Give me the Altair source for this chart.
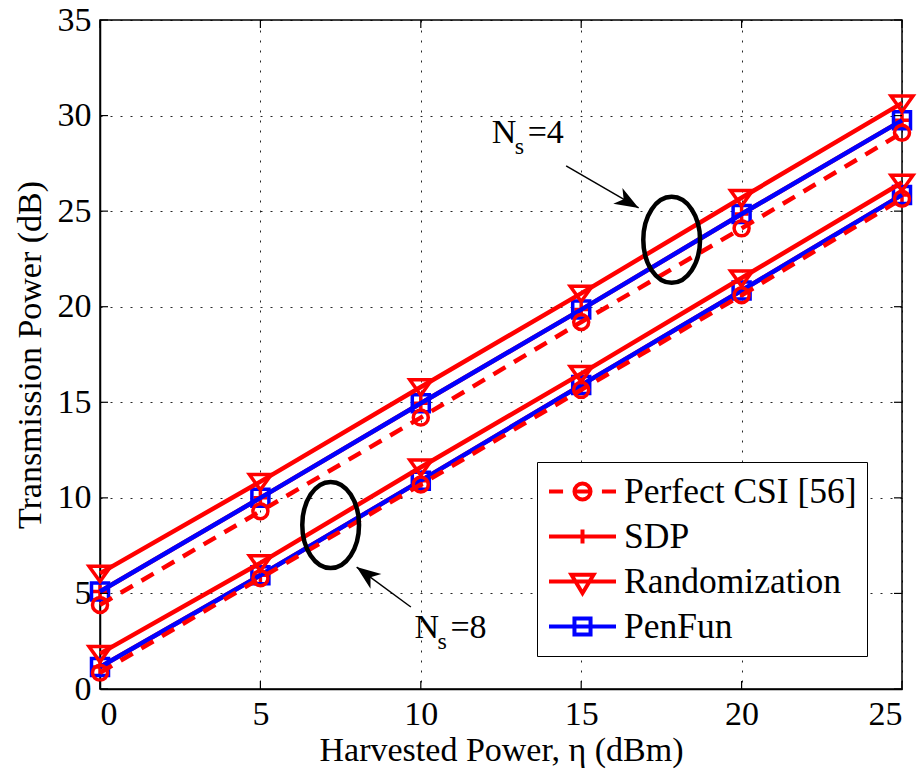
import altair as alt
import pandas as pd

# ---------------- data ----------------
x_vals = [0, 5, 10, 15, 20, 25]

perfect_ns4 = [4.4, 9.3, 14.2, 19.2, 24.1, 29.1]
sdp_ns4 = [5.1, 10.0, 14.95, 19.85, 24.85, 29.75]
random_ns4 = [6.05, 10.85, 15.8, 20.7, 25.7, 30.65]
penfun_ns4 = [5.1, 10.0, 14.95, 19.85, 24.85, 29.75]

perfect_ns8 = [0.85, 5.8, 10.7, 15.65, 20.6, 25.65]
sdp_ns8 = [1.15, 5.95, 10.9, 15.9, 20.85, 25.85]
random_ns8 = [1.85, 6.6, 11.6, 16.5, 21.5, 26.5]
penfun_ns8 = [1.15, 5.95, 10.9, 15.9, 20.85, 25.85]

legend_names = ["Perfect CSI [56]", "SDP", "Randomization", "PenFun"]
legend_colors = ["#ff0000", "#ff0000", "#ff0000", "#0000ff"]

x_ticks = [0, 5, 10, 15, 20, 25]
y_ticks = [0, 5, 10, 15, 20, 25, 30, 35]

# annotations
ellipse_x = [17.82, 7.19]
ellipse_y = [23.5, 8.58]
arrow_x = [14.53, 9.69]
arrow_y = [27.37, 4.29]
arrow_x2 = [16.79, 8.0]
arrow_y2 = [25.17, 6.38]
arrow_angle = [30, 216.5]
label_x = [12.21, 9.80]
label_y = [28.57, 2.67]
label_value = ["=4", "=8"]

FONT = "Liberation Serif"
RED = "#ff0000"
BLUE = "#0000ff"

X_DOMAIN = [0, 25]
Y_DOMAIN = [0, 35]

xs = alt.Scale(domain=X_DOMAIN, nice=False, zero=False)
ys = alt.Scale(domain=Y_DOMAIN, nice=False, zero=False)
x_axis = alt.Axis(values=x_ticks, title="Harvested Power, η (dBm)", format="d")
y_axis = alt.Axis(values=y_ticks, title="Transmission Power (dB)", format="d")


def X(field="x"):
    return alt.X(f"{field}:Q", scale=xs, axis=x_axis)


def Y(field="y"):
    return alt.Y(f"{field}:Q", scale=ys, axis=y_axis)


TRI_DOWN = "M-1,-0.65H1L0,0.75Z"
PLUS = "M-1,0H1M0,-1V1"


def series_layers(ns4, ns8, color, shape, size, dash=None):
    df = pd.DataFrame({
        "x": x_vals + x_vals,
        "y": ns4 + ns8,
        "grp": ["4"] * len(x_vals) + ["8"] * len(x_vals),
    })
    line_kw = dict(color=color, strokeWidth=4.5)
    if dash is not None:
        line_kw["strokeDash"] = dash
        line_kw["strokeCap"] = "butt"
    line = alt.Chart(df).mark_line(**line_kw).encode(x=X(), y=Y(), detail="grp:N")
    pts = alt.Chart(df).mark_point(
        shape=shape, size=size, color=color, filled=False, strokeWidth=3.5, opacity=1
    ).encode(x=X(), y=Y())
    return [line, pts]


layers = []
layers += series_layers(sdp_ns4, sdp_ns8, RED, PLUS, 196)
layers += series_layers(penfun_ns4, penfun_ns8, BLUE, "square", 289)
layers += series_layers(random_ns4, random_ns8, RED, TRI_DOWN, 484)
layers += series_layers(perfect_ns4, perfect_ns8, RED, "circle", 225, dash=[14, 10])

# inward tick marks on all four sides
xt = pd.DataFrame({"x": x_ticks})
yt = pd.DataFrame({"y": y_ticks})
tick_style = dict(color="black", strokeWidth=1.2)
layers.append(alt.Chart(xt).mark_rule(**tick_style).encode(
    x=X(), y=alt.datum(0, scale=ys), y2=alt.datum(0.42)))
layers.append(alt.Chart(xt).mark_rule(**tick_style).encode(
    x=X(), y=alt.datum(35, scale=ys), y2=alt.datum(34.58)))
layers.append(alt.Chart(yt).mark_rule(**tick_style).encode(
    y=Y(), x=alt.datum(0, scale=xs), x2=alt.datum(0.25)))
layers.append(alt.Chart(yt).mark_rule(**tick_style).encode(
    y=Y(), x=alt.datum(25, scale=xs), x2=alt.datum(24.75)))

# ellipses
ell = pd.DataFrame({"x": ellipse_x, "y": ellipse_y})
layers.append(alt.Chart(ell).mark_point(
    shape="M0,-1A0.66,1 0 1,1 0,1A0.66,1 0 1,1 0,-1Z", size=7396,
    filled=False, color="black", strokeWidth=4.5, opacity=1
).encode(x=X(), y=Y()))

# arrows
arr = pd.DataFrame({"x": arrow_x, "y": arrow_y, "x2": arrow_x2, "y2": arrow_y2, "ang": arrow_angle})
layers.append(alt.Chart(arr).mark_rule(color="black", strokeWidth=1.5).encode(
    x=X(), y=Y(), x2="x2:Q", y2="y2:Q"))
layers.append(alt.Chart(arr).mark_point(
    shape="M0,0L-1,-0.38L-0.72,0L-1,0.38Z", size=2304, filled=True,
    color="black", opacity=1, strokeWidth=0
).encode(x=X("x2"), y=Y("y2"), angle=alt.Angle("ang:Q", scale=None)))

# N_s labels
lab = pd.DataFrame({"x": label_x, "y": label_y, "t": label_value})
layers.append(alt.Chart(lab).mark_text(
    text="N", font=FONT, fontSize=34, align="left", baseline="alphabetic", color="black"
).encode(x=X(), y=Y()))
layers.append(alt.Chart(lab).mark_text(
    text="s", font=FONT, fontSize=24, align="left", baseline="alphabetic", color="black", dx=23, dy=11
).encode(x=X(), y=Y()))
layers.append(alt.Chart(lab).mark_text(
    font=FONT, fontSize=34, align="left", baseline="alphabetic", color="black", dx=36
).encode(x=X(), y=Y(), text="t:N"))

# legend layer (invisible points, legend only)
legend_paths = [
    "M-1,0H-0.58M0.58,0H1M-0.24,0H0.24M0.24,0A0.24,0.24 0 1,1 -0.24,0A0.24,0.24 0 1,1 0.24,0",
    "M-1,0H1M0,-0.21V0.21",
    "M-1,0H1M-0.33,-0.2H0.33L0,0.35Z",
    "M-1,0H1M-0.24,-0.24H0.24V0.24H-0.24Z",
]
leg = alt.Legend(
    title=None, orient="none", legendX=437, legendY=442, direction="vertical",
    labelFont=FONT, labelFontSize=35.5, labelColor="black", labelLimit=500,
    labelOffset=6, symbolSize=4489, symbolStrokeWidth=4, clipHeight=39, rowPadding=6,
    padding=10, fillColor="white", strokeColor="black", symbolOffset=0,
    labelExpr="datum.label + '\u00a0\u00a0\u00a0'",
)
leg_df = pd.DataFrame({"series": legend_names})
layers.append(alt.Chart(leg_df).mark_point(filled=False, size=0, opacity=1, strokeWidth=4).encode(
    color=alt.Color("series:N", scale=alt.Scale(domain=legend_names, range=legend_colors), legend=leg),
    shape=alt.Shape("series:N", scale=alt.Scale(domain=legend_names, range=legend_paths), legend=leg),
))

chart = alt.layer(*layers).properties(
    width=802, height=669,
    autosize=alt.AutoSizeParams(type="none"),
    padding={"left": 100, "top": 20, "right": 20, "bottom": 82},
    background="white",
).configure_view(
    stroke="black", strokeWidth=1.5
).configure_axis(
    labelFont=FONT, labelFontSize=34, labelColor="black", labelPadding=8,
    titleFont=FONT, titleFontSize=34, titleFontWeight="normal", titleColor="black",
    domainColor="black", domainWidth=1.5, ticks=False,
    grid=True, gridColor="black", gridDash=[2, 8], gridWidth=1, gridOpacity=0.85,
).configure_axisX(
    titlePadding=2, labelPadding=8,
).configure_axisY(
    titlePadding=10, labelPadding=9,
)

chart.save("out.html", embed_options={"renderer": "svg", "actions": False})
